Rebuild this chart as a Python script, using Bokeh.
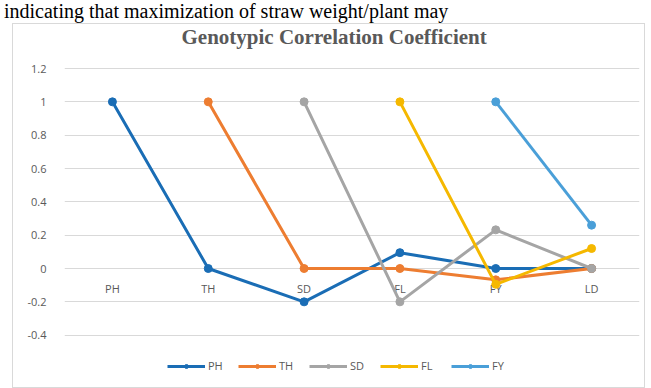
from bokeh.plotting import figure
from bokeh.models import (FactorRange, Range1d, FixedTicker, Legend, LegendItem, Div, Label)
from bokeh.layouts import column
from bokeh.core.properties import value
from bokeh.embed import file_html
from bokeh.resources import INLINE

NaN = float("nan")

categories = ["PH", "TH", "SD", "FL", "FY", "LD"]
series_names = ["PH", "TH", "SD", "FL", "FY"]
PH = [1, 0, -0.2, 0.095, 0, 0]
TH = [NaN, 1, 0, 0, -0.068, 0]
SD = [NaN, NaN, 1, -0.2, 0.232, 0]
FL = [NaN, NaN, NaN, 1, -0.095, 0.12]
FY = [NaN, NaN, NaN, NaN, 1, 0.26]
series_values = [PH, TH, SD, FL, FY]
colors = ["#1A6DB5", "#ED7D31", "#A5A5A5", "#F5B800", "#4A9FD8"]
y_ticks = [-0.4, -0.2, 0, 0.2, 0.4, 0.6, 0.8, 1, 1.2]
y_tick_labels = ["-0.4", "-0.2", "0", "0.2", "0.4", "0.6", "0.8", "1", "1.2"]
title_text = "Genotypic Correlation Coefficient"
top_text = "indicating that maximization of straw weight/plant may"
axis_cross = 0

label_font = "Open Sans"
gray = "#595959"

# frame extended up and down so the title and legend fit inside it
p = figure(width=633, height=365, x_range=FactorRange(*categories),
           y_range=Range1d(-0.678, 1.464), output_backend="svg",
           toolbar_location=None, min_border_left=51, min_border_right=7,
           min_border_top=0, min_border_bottom=8)
p.title_location = None
p.margin = (0, 0, 0, 12)
p.styles = {"border": "1px solid #D9D9D9"}

p.add_layout(Label(x=117, y=345, x_units="screen", y_units="screen",
                   text=title_text, text_font="Liberation Serif",
                   text_font_style="bold", text_font_size="21px",
                   text_color=gray, text_align="left", text_baseline="middle"))

p.outline_line_color = None
p.xaxis.visible = False
p.xgrid.grid_line_color = None
p.ygrid.grid_line_color = "#D9D9D9"
p.ygrid.ticker = FixedTicker(ticks=y_ticks)

ya = p.yaxis[0]
ya.ticker = FixedTicker(ticks=y_ticks)
ya.major_label_overrides = {t: l for t, l in zip(y_ticks, y_tick_labels)}
ya.axis_line_color = None
ya.major_tick_line_color = None
ya.minor_tick_line_color = None
ya.major_label_text_font = label_font
ya.major_label_text_font_size = "11px"
ya.major_label_text_color = gray
ya.major_label_standoff = 12

p.text(x=categories, y=[axis_cross] * len(categories), text=categories,
       text_font=value(label_font), text_font_size="11px", text_color=gray,
       text_align="center", text_baseline="middle", y_offset=20)

items = []
for name, vals, c in zip(series_names, series_values, colors):
    lr = p.line(categories, vals, line_color=c, line_width=3)
    sr = p.scatter(categories, vals, size=8, fill_color=c, line_color=c)
    items.append(LegendItem(label=name, renderers=[lr, sr]))

legend = Legend(items=items, orientation="horizontal", location=(103, 8),
                glyph_width=38, glyph_height=10, label_standoff=3, spacing=10,
                label_text_font=label_font, label_text_font_size="11px",
                label_text_color=gray, border_line_color=None,
                background_fill_alpha=0, padding=0, margin=0)
p.add_layout(legend, "center")

div = Div(text=('<div style="font-family:\'Liberation Serif\';font-size:20px;'
                'line-height:23px;margin-left:4px;white-space:nowrap;'
                'color:#000">' + top_text + '</div>'),
          width=651, height=23)
div.margin = (0, 0, 0, 0)

layout = column(div, p, spacing=0)
open("out.html", "w").write(file_html(layout, INLINE))
